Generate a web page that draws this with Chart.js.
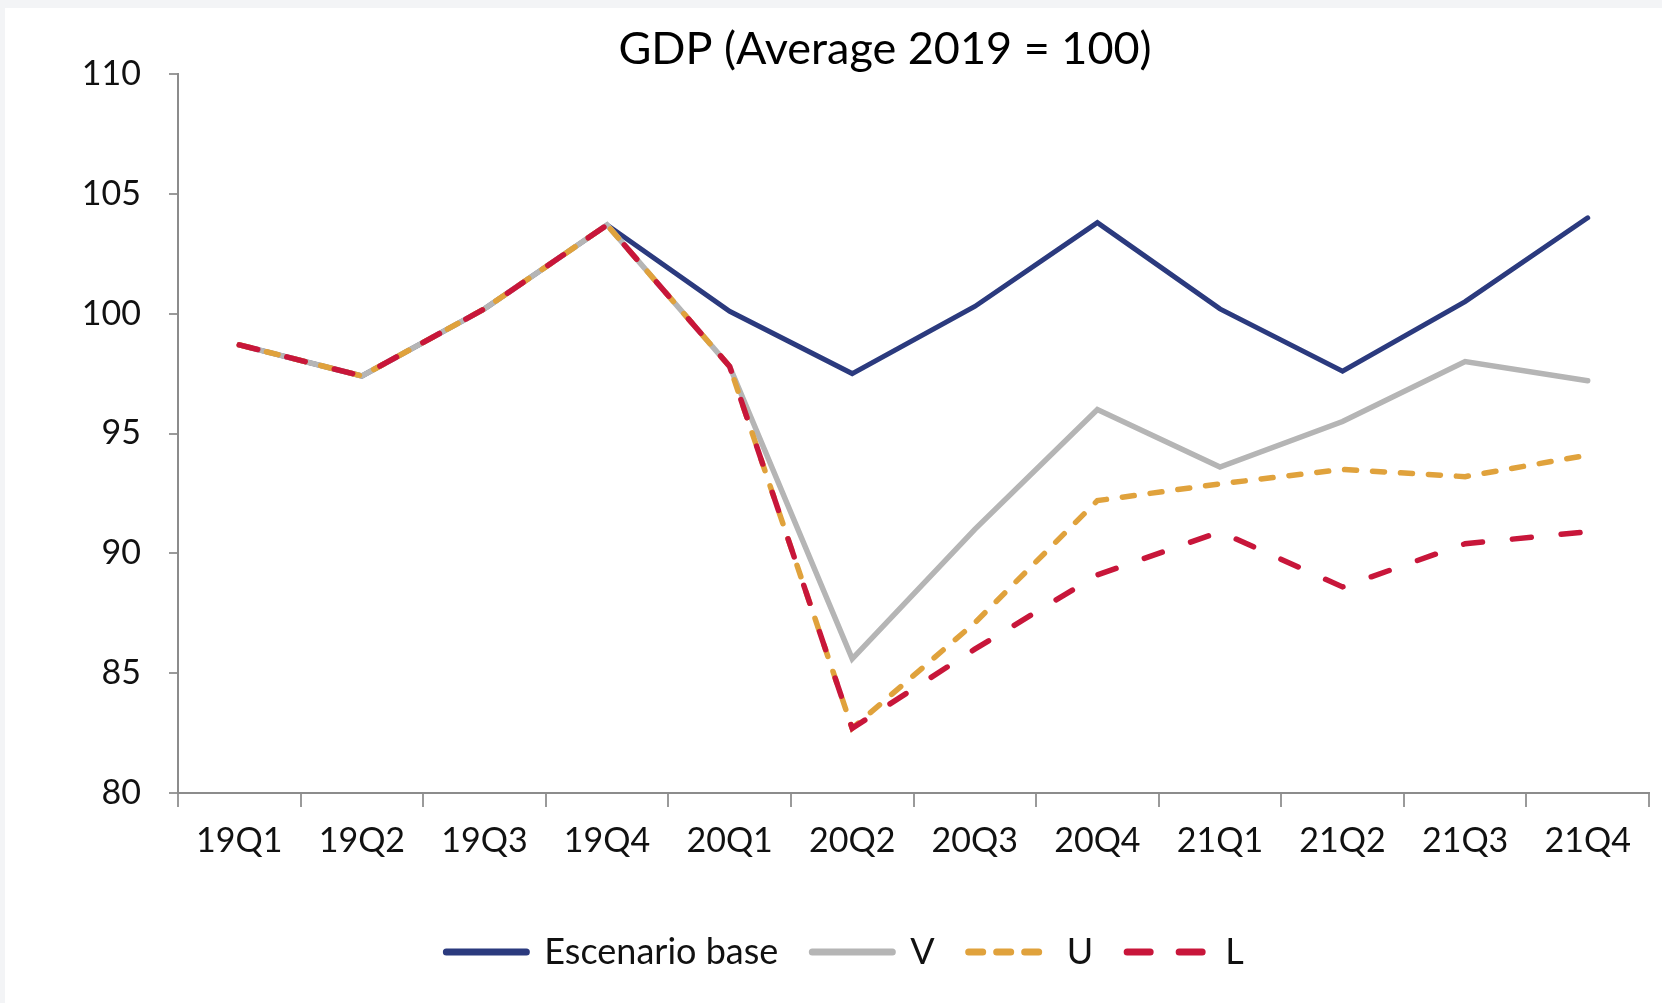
<!DOCTYPE html>
<html>
<head>
<meta charset="utf-8">
<script src="https://cdn.jsdelivr.net/npm/chart.js@4.4.1/dist/chart.umd.min.js"></script>
<style>
  html, body { margin: 0; padding: 0; background: #f3f4f6; }
  #wrap { position: absolute; left: 5px; top: 8px; width: 1657px; height: 995px; background: #ffffff; }
</style>
</head>
<body>
<div id="wrap"><canvas id="gdpChart" width="1657" height="995"></canvas></div>
<script>
// quarters on the x axis
const quarters = ["19Q1", "19Q2", "19Q3", "19Q4", "20Q1", "20Q2", "20Q3", "20Q4", "21Q1", "21Q2", "21Q3", "21Q4"];

// GDP index, average 2019 = 100
const baseValues = [98.7, 97.4, 100.2, 103.7, 100.1, 97.5, 100.3, 103.8, 100.2, 97.6, 100.5, 104.0];
const vValues    = [98.7, 97.4, 100.2, 103.7, 97.8, 85.6, 91.0, 96.0, 93.6, 95.5, 98.0, 97.2];
const uValues    = [98.7, 97.4, 100.2, 103.7, 97.8, 82.7, 87.1, 92.2, 92.9, 93.5, 93.2, 94.1];
const lValues    = [98.7, 97.4, 100.2, 103.7, 97.8, 82.7, 86.0, 89.1, 90.9, 88.6, 90.4, 90.9];

const seriesNames = ["Escenario base", "V", "U", "L"];
const yMin = 80;
const yMax = 110;
const yStep = 5;

const FONT = "Lato, 'Open Sans', sans-serif";

// dash used for the little legend samples (a bit different from the lines)
const legendDash = [[], [], [14, 14], [23, 29]];

// title sits a bit right of the legend centre in the original
const titleShift = {
    id: "titleShift",
    afterLayout(chart) {
        chart.titleBlock.left += 40;
        chart.titleBlock.right += 40;
    }
};

function makeChart() {
    const ctx = document.getElementById("gdpChart").getContext("2d");

    new Chart(ctx, {
        type: "line",
        data: {
            labels: quarters,
            datasets: [
                {
                    label: seriesNames[0],
                    data: baseValues,
                    borderColor: "#2b3a7e",
                    backgroundColor: "#2b3a7e",
                    borderWidth: 5,
                    borderCapStyle: "round",
                    pointRadius: 0,
                    order: 3
                },
                {
                    label: seriesNames[1],
                    data: vValues,
                    borderColor: "#b5b5b5",
                    backgroundColor: "#b5b5b5",
                    borderWidth: 5.5,
                    borderCapStyle: "round",
                    pointRadius: 0,
                    order: 2
                },
                {
                    label: seriesNames[2],
                    data: uValues,
                    borderColor: "#e0a23c",
                    backgroundColor: "#e0a23c",
                    borderWidth: 5.5,
                    borderDash: [12, 16],
                    borderCapStyle: "round",
                    pointRadius: 0,
                    order: 1
                },
                {
                    label: seriesNames[3],
                    data: lValues,
                    borderColor: "#c8163a",
                    backgroundColor: "#c8163a",
                    borderWidth: 5.5,
                    borderDash: [19, 30],
                    borderCapStyle: "round",
                    pointRadius: 0,
                    order: 0
                }
            ]
        },
        options: {
            responsive: false,
            maintainAspectRatio: false,
            animation: false,
            layout: {
                padding: { left: 36, right: 13, top: 0, bottom: 23 }
            },
            plugins: {
                title: {
                    display: true,
                    text: "GDP (Average 2019 = 100)",
                    color: "#000",
                    font: { family: FONT, size: 45, weight: "normal", lineHeight: 1.0 },
                    padding: { top: 19, bottom: 2 }
                },
                legend: {
                    position: "bottom",
                    labels: {
                        usePointStyle: true,
                        pointStyle: "line",
                        pointStyleWidth: 80,
                        boxHeight: 7,
                        padding: 34,
                        color: "#111",
                        font: { family: FONT, size: 36 },
                        sort: (a, b) => a.datasetIndex - b.datasetIndex,
                        generateLabels(chart) {
                            const items = Chart.defaults.plugins.legend.labels.generateLabels(chart);
                            items.forEach(item => {
                                const ds = chart.data.datasets[item.datasetIndex];
                                item.strokeStyle = ds.borderColor;
                                item.lineWidth = 7;
                                item.lineCap = "round";
                                item.lineDash = legendDash[item.datasetIndex];
                            });
                            return items;
                        }
                    }
                },
                tooltip: { enabled: false }
            },
            scales: {
                x: {
                    offset: true,
                    grid: {
                        offset: true,
                        drawOnChartArea: false,
                        drawTicks: true,
                        tickLength: 14,
                        color: "#9a9a9a",
                        lineWidth: 2
                    },
                    border: { display: true, color: "#8c8c8c", width: 2 },
                    ticks: {
                        color: "#111",
                        font: { family: FONT, size: 34 },
                        padding: 14,
                        maxRotation: 0,
                        autoSkip: false
                    },
                    afterFit(scale) { scale.height = 107; }
                },
                y: {
                    min: yMin,
                    max: yMax,
                    grid: {
                        drawOnChartArea: false,
                        drawTicks: true,
                        tickLength: 9,
                        color: "#9a9a9a",
                        lineWidth: 2
                    },
                    border: { display: true, color: "#8c8c8c", width: 2 },
                    ticks: {
                        stepSize: yStep,
                        color: "#111",
                        font: { family: FONT, size: 34 },
                        padding: 28
                    },
                    afterFit(scale) { scale.width = 137; }
                }
            }
        },
        plugins: [titleShift]
    });
}

document.addEventListener("DOMContentLoaded", makeChart);
</script>
</body>
</html>
